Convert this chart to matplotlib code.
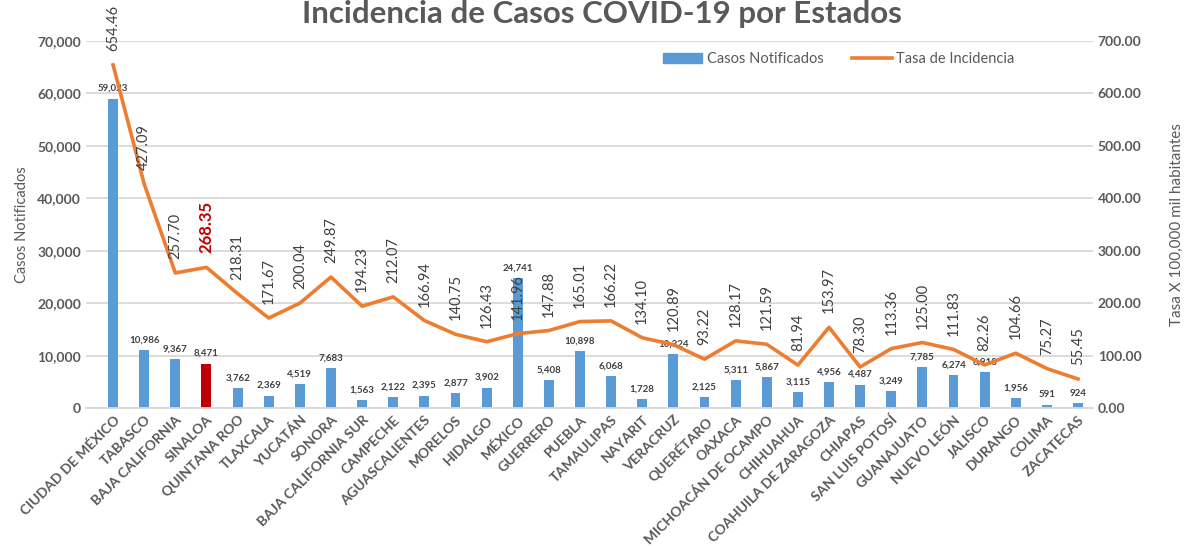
import matplotlib.pyplot as plt
import numpy as np

plt.rcParams['font.family'] = ['Lato', 'DejaVu Sans']

estados = ['CIUDAD DE MÉXICO', 'TABASCO', 'BAJA CALIFORNIA', 'SINALOA', 'QUINTANA ROO',
           'TLAXCALA', 'YUCATÁN', 'SONORA', 'BAJA CALIFORNIA SUR', 'CAMPECHE',
           'AGUASCALIENTES', 'MORELOS', 'HIDALGO', 'MÉXICO', 'GUERRERO', 'PUEBLA',
           'TAMAULIPAS', 'NAYARIT', 'VERACRUZ', 'QUERÉTARO', 'OAXACA',
           'MICHOACÁN DE OCAMPO', 'CHIHUAHUA', 'COAHUILA DE ZARAGOZA', 'CHIAPAS',
           'SAN LUIS POTOSÍ', 'GUANAJUATO', 'NUEVO LEÓN', 'JALISCO', 'DURANGO',
           'COLIMA', 'ZACATECAS']
casos = [59023, 10986, 9367, 8471, 3762, 2369, 4519, 7683, 1563, 2122,
         2395, 2877, 3902, 24741, 5408, 10898, 6068, 1728, 10324, 2125,
         5311, 5867, 3115, 4956, 4487, 3249, 7785, 6274, 6918, 1956, 591, 924]
tasa = [654.46, 427.09, 257.70, 268.35, 218.31, 171.67, 200.04, 249.87, 194.23, 212.07,
        166.94, 140.75, 126.43, 141.96, 147.88, 165.01, 166.22, 134.10, 120.89, 93.22,
        128.17, 121.59, 81.94, 153.97, 78.30, 113.36, 125.00, 111.83, 82.26, 104.66,
        75.27, 55.45]
destacado = 'SINALOA'

azul = '#5B9BD5'
naranja = '#ED7D31'
rojo = '#C00000'
gris = '#595959'
texto = '#404040'

fig = plt.figure(figsize=(11.88, 5.47), dpi=100)
ax = fig.add_axes([0.0724, 0.254, 0.8476, 0.671])
ax2 = ax.twinx()

x = np.arange(len(estados))
colores = [rojo if e == destacado else azul for e in estados]
ax.bar(x, casos, width=0.32, color=colores, zorder=2)

for xi, c in zip(x, casos):
    ax.annotate(f'{c:,}', (xi, c), xytext=(0, 4), textcoords='offset points',
                ha='center', va='bottom', fontsize=7, fontweight='bold', color=texto)

ax2.plot(x, tasa, color=naranja, lw=2.6, zorder=3)
for xi, t, e in zip(x, tasa, estados):
    if e == destacado:
        ax2.annotate(f'{t:.2f}', (xi, t), xytext=(0, 10), textcoords='offset points',
                     ha='center', va='bottom', rotation=90, fontsize=12,
                     fontweight='bold', color=rojo)
    else:
        ax2.annotate(f'{t:.2f}', (xi, t), xytext=(0, 10), textcoords='offset points',
                     ha='center', va='bottom', rotation=90, fontsize=10.5,
                     color=texto, annotation_clip=False)

ax.set_xlim(-0.87, 31.48)
ax.set_ylim(0, 70000)
ax2.set_ylim(0, 700)
ax.set_yticks(np.arange(0, 70001, 10000))
ax2.set_yticks(np.arange(0, 701, 100))
ax.set_yticklabels([f'{v:,}' for v in range(0, 70001, 10000)])
ax2.set_yticklabels([f'{v:.2f}' for v in range(0, 701, 100)])

ax.grid(axis='y', color='#D9D9D9', lw=1.3, zorder=0)
ax.set_axisbelow(True)
for a in (ax, ax2):
    for s in a.spines.values():
        s.set_visible(False)
    a.tick_params(length=0, labelsize=10, labelcolor=gris)
    for lbl in a.get_yticklabels():
        lbl.set_fontweight('bold')
ax.spines['bottom'].set_visible(True)
ax.spines['bottom'].set_color('#D9D9D9')
ax.spines['bottom'].set_linewidth(1.3)

ax.set_xticks(x)
ax.set_xticklabels(estados, rotation=45, ha='right', rotation_mode='anchor',
                   fontsize=10, fontweight='bold', color=gris)
ax.tick_params(axis='x', pad=4)

ax.set_ylabel('Casos Notificados', fontsize=10.5, color=gris, labelpad=6)
ax2.set_ylabel('Tasa X 100,000 mil habitantes', fontsize=11, color=gris, labelpad=20)

fig.text(0.507, 0.958, 'Incidencia de Casos COVID-19 por Estados', ha='center',
         va='baseline', fontsize=22.5, fontweight='bold', color=gris)

h1 = plt.Rectangle((0, 0), 1, 1, color=azul)
h2 = plt.Line2D([], [], color=naranja, lw=2.6)
fig.legend([h1, h2], ['Casos Notificados', 'Tasa de Incidencia'],
           loc='center', bbox_to_anchor=(0.706, 0.892), ncol=2, frameon=False,
           fontsize=10.5, labelcolor=gris, handlelength=2.7, handletextpad=0.3,
           columnspacing=2.0, handleheight=0.6)

fig.savefig('out.png', dpi=100)
